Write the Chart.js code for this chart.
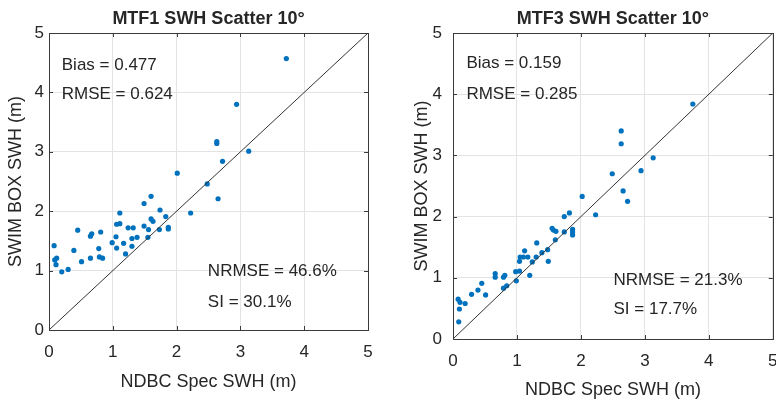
<!DOCTYPE html>
<html>
<head>
<meta charset="utf-8">
<script src="https://cdn.jsdelivr.net/npm/chart.js@4/dist/chart.umd.min.js"></script>
<style>
  html, body { margin: 0; padding: 0; background: #fff; width: 776px; height: 403px; overflow: hidden; }
  .wrap { position: absolute; top: 0; }
</style>
</head>
<body>
<div class="wrap" style="left:0px"><canvas id="mtf1Chart" width="390" height="403"></canvas></div>
<div class="wrap" style="left:390px"><canvas id="mtf3Chart" width="400" height="403"></canvas></div>
<script>
// values
const tickValues = [0, 1, 2, 3, 4, 5];
const diagX = [0, 5];
const diagY = [0, 5];

const mtf1X = [3.72, 2.94, 2.63, 2.63, 3.13, 2.72, 2.01, 2.48, 2.65, 2.22, 1.60, 1.49, 1.11, 1.74, 1.83, 1.60, 1.63,
  1.49, 1.87, 1.87, 1.73, 1.56, 1.55, 1.38, 1.30, 1.24, 1.32, 1.11, 1.06, 1.05, 0.99, 1.17, 1.06, 1.30, 1.20,
  0.81, 0.67, 0.65, 0.45, 0.78, 0.79, 0.84, 0.65, 0.51, 0.39, 0.08, 0.12, 0.09, 0.11, 0.20, 0.30];
const mtf1Y = [4.57, 3.80, 3.17, 3.14, 3.01, 2.84, 2.64, 2.46, 2.21, 1.97, 2.25, 2.13, 1.97, 2.02, 1.91, 1.87, 1.83,
  1.75, 1.73, 1.70, 1.69, 1.69, 1.56, 1.56, 1.54, 1.72, 1.72, 1.79, 1.78, 1.57, 1.47, 1.46, 1.38, 1.41, 1.28,
  1.65, 1.62, 1.58, 1.68, 1.37, 1.23, 1.21, 1.21, 1.15, 1.34, 1.42, 1.21, 1.18, 1.10, 0.98, 1.02];

const mtf3X = [3.75, 2.63, 2.63, 3.13, 2.94, 2.49, 2.66, 2.73, 2.02, 2.23, 1.82, 1.74, 1.55, 1.57, 1.61, 1.60, 1.74,
  1.87, 1.87, 1.87, 1.48, 1.49, 1.39, 1.31, 1.30, 1.24, 1.17, 1.12, 1.10, 1.05, 1.04, 1.04, 1.20, 0.98, 0.99,
  0.81, 0.79, 0.66, 0.66, 0.84, 0.79, 0.45, 0.51, 0.39, 0.29, 0.08, 0.11, 0.19, 0.10, 0.09];
const mtf3Y = [3.84, 3.40, 3.19, 2.96, 2.75, 2.70, 2.42, 2.25, 2.33, 2.03, 2.06, 2.00, 1.81, 1.78, 1.76, 1.62, 1.75,
  1.79, 1.75, 1.70, 1.46, 1.27, 1.41, 1.57, 1.34, 1.26, 1.34, 1.44, 1.34, 1.34, 1.27, 1.11, 1.04, 1.10, 0.95,
  1.04, 1.01, 1.07, 1.01, 0.87, 0.83, 0.91, 0.72, 0.80, 0.73, 0.65, 0.60, 0.58, 0.49, 0.28];

const mtf1Stats = ['Bias = 0.477', 'RMSE = 0.624', 'NRMSE = 46.6%', 'SI = 30.1%'];
const mtf3Stats = ['Bias = 0.159', 'RMSE = 0.285', 'NRMSE = 21.3%', 'SI = 17.7%'];

const FONT = "'Liberation Sans', Arial, sans-serif";
const TEXT = '#262626';

function toPoints(xs, ys) {
  return xs.map((x, i) => ({ x: x, y: ys[i] }));
}

// axes box with inward tick marks, MATLAB style
const boxPlugin = {
  id: 'box',
  afterDraw(chart) {
    const { ctx, chartArea: a, scales } = chart;
    ctx.save();
    ctx.strokeStyle = '#3a3a3a';
    ctx.lineWidth = 1;
    ctx.strokeRect(Math.round(a.left) + 0.5, Math.round(a.top) + 0.5,
      Math.round(a.right - a.left), Math.round(a.bottom - a.top));
    ctx.beginPath();
    tickValues.forEach(v => {
      const px = Math.round(scales.x.getPixelForValue(v)) + 0.5;
      const py = Math.round(scales.y.getPixelForValue(v)) + 0.5;
      ctx.moveTo(px, a.bottom); ctx.lineTo(px, a.bottom - 4);
      ctx.moveTo(px, a.top); ctx.lineTo(px, a.top + 4);
      ctx.moveTo(a.left, py); ctx.lineTo(a.left + 4, py);
      ctx.moveTo(a.right, py); ctx.lineTo(a.right - 4, py);
    });
    ctx.stroke();
    ctx.restore();
  }
};

// statistics text placed in data coordinates
const statsPlugin = {
  id: 'stats',
  afterDraw(chart, args, opts) {
    const { ctx, scales } = chart;
    ctx.save();
    ctx.font = '17px ' + FONT;
    ctx.fillStyle = TEXT;
    ctx.textAlign = 'left';
    ctx.textBaseline = 'middle';
    opts.lines.forEach((t, i) => {
      const p = opts.pos[i];
      ctx.fillText(t, scales.x.getPixelForValue(p[0]), scales.y.getPixelForValue(p[1]));
    });
    ctx.restore();
  }
};

function makeChart(id, cfg) {
  return new Chart(document.getElementById(id), {
    type: 'scatter',
    data: {
      datasets: [
        {
          data: toPoints(diagX, diagY),
          showLine: true,
          borderColor: '#333333',
          borderWidth: 1,
          pointRadius: 0
        },
        {
          data: toPoints(cfg.xs, cfg.ys),
          backgroundColor: '#0072BD',
          borderWidth: 0,
          pointRadius: 2.6
        }
      ]
    },
    options: {
      responsive: false,
      animation: false,
      layout: { padding: { left: 0, right: cfg.padRight, top: 0, bottom: 0 } },
      plugins: {
        legend: { display: false },
        tooltip: { enabled: false },
        title: {
          display: true,
          text: cfg.title,
          fullSize: false,
          color: TEXT,
          font: { family: FONT, size: 18, weight: 'bold' },
          padding: { top: 8.5, bottom: 2.9 }
        },
        stats: { lines: cfg.stats, pos: cfg.statPos }
      },
      scales: {
        x: {
          min: 0, max: 5,
          afterFit: s => { s.height = cfg.xHeight; },
          ticks: { stepSize: 1, padding: cfg.xTickPad, color: TEXT, font: { family: FONT, size: 17 } },
          grid: { color: '#e3e3e3', drawTicks: false },
          border: { display: false },
          title: {
            display: true, text: 'NDBC Spec SWH (m)', color: TEXT,
            font: { family: FONT, size: 18 }, padding: { top: 0, bottom: cfg.xTitlePad }
          }
        },
        y: {
          min: 0, max: 5,
          afterFit: s => { s.width = cfg.yWidth; },
          ticks: { stepSize: 1, padding: cfg.yTickPad, color: TEXT, font: { family: FONT, size: 17 } },
          grid: { color: '#e3e3e3', drawTicks: false },
          border: { display: false },
          title: {
            display: true, text: 'SWIM BOX SWH (m)', color: TEXT,
            font: { family: FONT, size: 18 }, padding: { top: cfg.yTitlePad, bottom: 0 }
          }
        }
      }
    },
    plugins: [boxPlugin, statsPlugin]
  });
}

makeChart('mtf1Chart', {
  title: 'MTF1 SWH Scatter 10°',
  xs: mtf1X, ys: mtf1Y,
  stats: mtf1Stats,
  statPos: [[0.20, 4.46], [0.20, 3.96], [2.49, 0.99], [2.49, 0.46]],
  padRight: 22, yWidth: 49, xHeight: 73,
  xTickPad: 12, yTickPad: 5, xTitlePad: 10.5, yTitlePad: 5.5
});

makeChart('mtf3Chart', {
  title: 'MTF3 SWH Scatter 10°',
  xs: mtf3X, ys: mtf3Y,
  stats: mtf3Stats,
  statPos: [[0.21, 4.51], [0.21, 3.99], [2.51, 0.96], [2.51, 0.48]],
  padRight: 15, yWidth: 63, xHeight: 64,
  xTickPad: 12.5, yTickPad: 11, xTitlePad: 2.2, yTitlePad: 21
});
</script>
</body>
</html>
